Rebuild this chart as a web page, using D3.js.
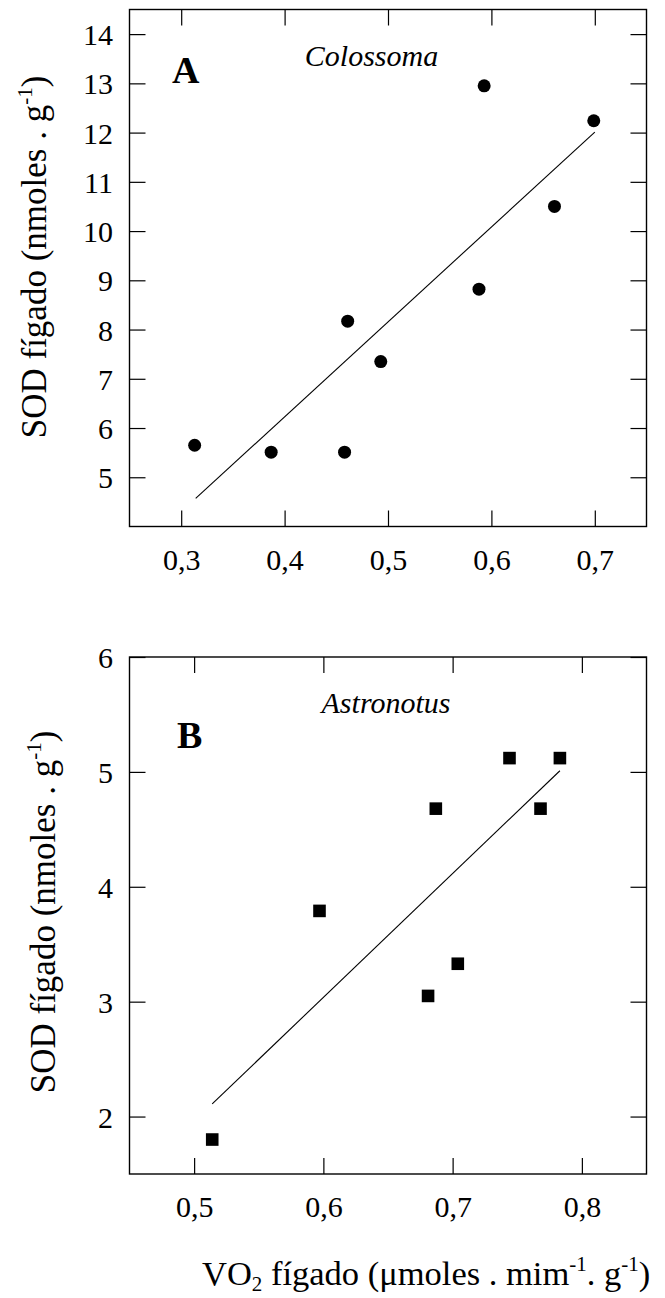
<!DOCTYPE html>
<html lang="en">
<head>
<meta charset="utf-8">
<title>SOD vs VO2</title>
<script src="https://d3js.org/d3.v7.min.js"></script>
<style>
  body { margin: 0; background: #fff; }
  svg text { font-family: "Liberation Serif", "Times New Roman", serif; fill: #000; }
</style>
</head>
<body>
<div id="chart"></div>
<script>
// Panel A - Colossoma
const colX = [0.313, 0.387, 0.458, 0.461, 0.493, 0.588, 0.593, 0.661, 0.699];
const colY = [5.65, 5.51, 5.51, 8.17, 7.35, 8.82, 12.95, 10.50, 12.24];
const colFitX = [0.314, 0.700];
const colFitY = [4.57, 12.01];
const colXTicks = [0.3, 0.4, 0.5, 0.6, 0.7];
const colYTicks = [5, 6, 7, 8, 9, 10, 11, 12, 13, 14];

// Panel B - Astronotus
const astX = [0.514, 0.597, 0.681, 0.687, 0.704, 0.744, 0.768, 0.783];
const astY = [1.80, 3.79, 3.05, 4.68, 3.33, 5.12, 4.68, 5.12];
const astFitX = [0.514, 0.783];
const astFitY = [2.11, 5.01];
const astXTicks = [0.5, 0.6, 0.7, 0.8];
const astYTicks = [2, 3, 4, 5, 6];

const W = 665, H = 1298;
const size = 517;
const tickLen = 16;

const svg = d3.select("#chart").append("svg")
  .attr("width", W)
  .attr("height", H);

svg.append("rect").attr("width", W).attr("height", H).attr("fill", "#fff");

const fmt = d3.formatLocale({decimal: ",", thousands: ".", grouping: [3], currency: ["", ""]}).format(".1f");

function drawPanel(p) {
  const g = svg.append("g").attr("transform", `translate(${p.left},${p.top})`);

  const x = d3.scaleLinear().domain(p.xDomain).range([0, size]);
  const y = d3.scaleLinear().domain(p.yDomain).range([size, 0]);

  // axes, ticks pointing inward
  const bottom = g.append("g").attr("transform", `translate(0,${size})`)
    .call(d3.axisBottom(x).tickValues(p.xTicks).tickFormat(fmt).tickSizeInner(-tickLen).tickSizeOuter(0));
  bottom.selectAll("text").attr("y", 43).attr("dy", null).attr("font-size", 30);

  g.append("g")
    .call(d3.axisTop(x).tickValues(p.xTicks).tickFormat("").tickSizeInner(-tickLen).tickSizeOuter(0));

  const left = g.append("g")
    .call(d3.axisLeft(y).tickValues(p.yTicks).tickFormat(d3.format("d")).tickSizeInner(-tickLen).tickSizeOuter(0));
  left.selectAll("text").attr("x", -16.5).attr("dy", "0.35em").attr("font-size", 30);

  g.append("g").attr("transform", `translate(${size},0)`)
    .call(d3.axisRight(y).tickValues(p.yTicks).tickFormat("").tickSizeInner(-tickLen).tickSizeOuter(0));

  g.selectAll(".domain").remove();
  g.selectAll(".tick line").attr("stroke", "#000").attr("stroke-width", 1.2);
  g.selectAll(".tick text").attr("font-family", null);

  g.append("rect")
    .attr("width", size).attr("height", size)
    .attr("fill", "none").attr("stroke", "#000").attr("stroke-width", 1.4);

  // regression line
  const fit = p.fitX.map((v, i) => [v, p.fitY[i]]);
  g.append("path")
    .datum(fit)
    .attr("d", d3.line().x(d => x(d[0])).y(d => y(d[1])))
    .attr("fill", "none")
    .attr("stroke", "#000")
    .attr("stroke-width", 1.1);

  const pts = p.xs.map((v, i) => [v, p.ys[i]]);
  if (p.shape === "circle") {
    g.selectAll(".pt").data(pts).join("circle")
      .attr("class", "pt")
      .attr("cx", d => x(d[0])).attr("cy", d => y(d[1]))
      .attr("r", 6.5).attr("fill", "#000");
  } else {
    const s = 12.6;
    g.selectAll(".pt").data(pts).join("rect")
      .attr("class", "pt")
      .attr("x", d => x(d[0]) - s / 2).attr("y", d => y(d[1]) - s / 2)
      .attr("width", s).attr("height", s).attr("fill", "#000");
  }

  // panel letter and species name
  g.append("text")
    .attr("x", p.letterPos[0]).attr("y", p.letterPos[1])
    .attr("font-size", 38).attr("font-weight", "bold")
    .text(p.letter);
  g.append("text")
    .attr("x", p.namePos[0]).attr("y", p.namePos[1])
    .attr("text-anchor", "middle")
    .attr("font-size", 30).attr("font-style", "italic")
    .text(p.name);

  // y title
  const yt = svg.append("text")
    .attr("transform", `translate(${p.yTitlePos[0]},${p.yTitlePos[1]}) rotate(-90)`)
    .attr("text-anchor", "middle")
    .attr("font-size", 35);
  yt.append("tspan").text("SOD fígado (nmoles . g");
  yt.append("tspan").attr("font-size", 21).attr("dy", -14).text("-1");
  yt.append("tspan").attr("dy", 14).text(")");
}

drawPanel({
  left: 129.5, top: 9.5,
  xDomain: [0.25, 0.75], yDomain: [4, 14.5],
  xTicks: colXTicks, yTicks: colYTicks,
  xs: colX, ys: colY, fitX: colFitX, fitY: colFitY,
  shape: "circle",
  letter: "A", letterPos: [42.5, 73.5],
  name: "Colossoma", namePos: [242, 56.5],
  yTitlePos: [46, 257]
});

drawPanel({
  left: 129.5, top: 657,
  xDomain: [0.45, 0.85], yDomain: [1.5, 6],
  xTicks: astXTicks, yTicks: astYTicks,
  xs: astX, ys: astY, fitX: astFitX, fitY: astFitY,
  shape: "square",
  letter: "B", letterPos: [47.5, 90.5],
  name: "Astronotus", namePos: [256.5, 55.5],
  yTitlePos: [55, 912]
});

// x title
const xt = svg.append("text")
  .attr("x", 202).attr("y", 1285)
  .attr("font-size", 34.5);
xt.append("tspan").text("VO");
xt.append("tspan").attr("font-size", 21).attr("dy", 6).text("2");
xt.append("tspan").attr("dy", -6).text(" fígado (μmoles . mim");
xt.append("tspan").attr("font-size", 21).attr("dy", -14).text("-1");
xt.append("tspan").attr("dy", 14).text(". g");
xt.append("tspan").attr("font-size", 21).attr("dy", -14).text("-1");
xt.append("tspan").attr("dy", 14).text(")");
</script>
</body>
</html>
